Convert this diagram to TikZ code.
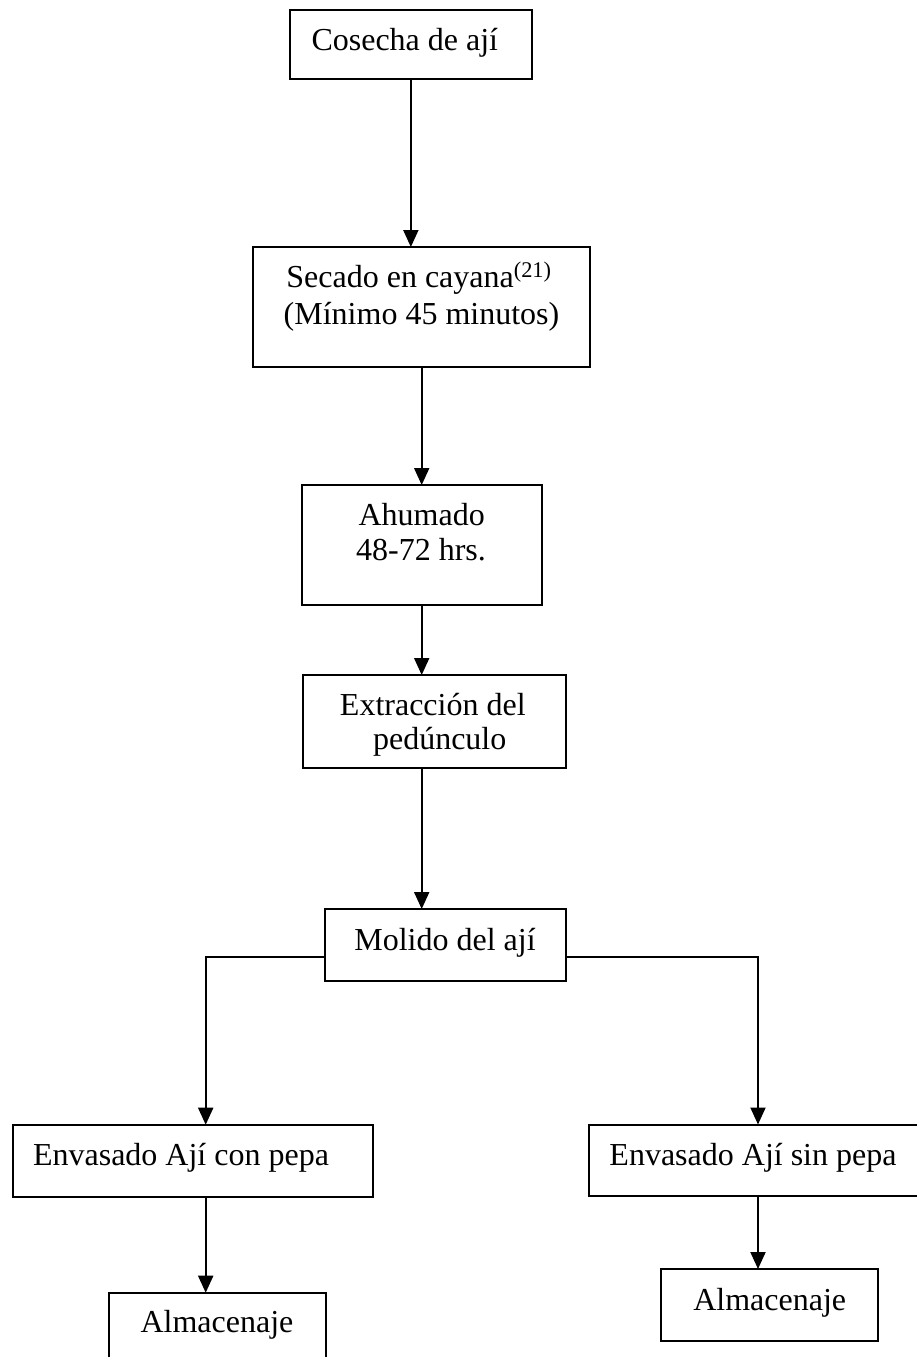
\documentclass[tikz,border=0pt]{standalone}
\usepackage{fontspec}
\setmainfont{Liberation Serif}
\usetikzlibrary{arrows.meta}
\begin{document}
\begin{tikzpicture}[x=1pt,y=-1pt,
  box/.style={draw=black, line width=2pt, inner sep=0pt, outer sep=0pt},
  lbl/.style={font=\fontsize{32}{37}\selectfont, inner sep=0pt, anchor=base},
  arr/.style={line width=2pt, -{Triangle[length=17pt,width=15pt]}}]
\useasboundingbox (0,0) rectangle (917,1357);

% process boxes
\node[box, minimum width=241.7pt, minimum height=69pt]  (b1) at (410.85,44.5) {};
\node[box, minimum width=336.7pt, minimum height=120.3pt] (b2) at (421.65,307.15) {};
\node[box, minimum width=240.2pt, minimum height=120pt] (b3) at (421.6,545) {};
\node[box, minimum width=263pt, minimum height=93pt]    (b4) at (434.2,721.5) {};
\node[box, minimum width=241.2pt, minimum height=71.7pt] (b5) at (445.2,944.85) {};
\node[box, minimum width=360pt, minimum height=71.8pt]  (b6) at (193.3,1160.6) {};
\node[box, minimum width=330.7pt, minimum height=71.8pt] (b7) at (754.65,1160.4) {};
\node[box, minimum width=216.4pt, minimum height=72.3pt] (b8) at (217.5,1328.85) {};
\node[box, minimum width=216.7pt, minimum height=71.7pt] (b9) at (769.35,1304.85) {};

% labels
\node[lbl] (t1)  at (404.8,50)  {Cosecha de ají};
\node[lbl] (t2a) at (419,287)   {Secado en cayana\textsuperscript{(21)}};
\node[lbl] (t2b) at (421.5,324) {(Mínimo 45 minutos)};
\node[lbl] (t3a) at (421.7,525) {Ahumado};
\node[lbl] (t3b) at (421,560)   {48-72 hrs.};
\node[lbl] (t4a) at (432.8,715) {Extracción del};
\node[lbl] (t4b) at (439.7,749) {pedúnculo};
\node[lbl] (t5)  at (445,950)   {Molido del ají};
\node[lbl] (t6)  at (181,1165)  {Envasado Ají con pepa};
\node[lbl] (t7)  at (753,1165)  {Envasado Ají sin pepa};
\node[lbl] (t8)  at (217,1332)  {Almacenaje};
\node[lbl] (t9)  at (769.7,1310) {Almacenaje};

% connectors
\coordinate (spine) at (421.7,0);
\coordinate (brL) at (205.7,956.7);
\coordinate (brR) at (758,956.7);

\draw[arr] (b1.south) -- (b1.south |- b2.north);
\draw[arr] (spine |- b2.south) -- (spine |- b3.north);
\draw[arr] (spine |- b3.south) -- (spine |- b4.north);
\draw[arr] (spine |- b4.south) -- (spine |- b5.north);
\draw[arr] (b5.west |- brL) -- (brL) -- (brL |- b6.north);
\draw[arr] (b5.east |- brR) -- (brR) -- (brR |- b7.north);
\draw[arr] (brL |- b6.south) -- (brL |- b8.north);
\draw[arr] (brR |- b7.south) -- (brR |- b9.north);
\end{tikzpicture}
\end{document}
